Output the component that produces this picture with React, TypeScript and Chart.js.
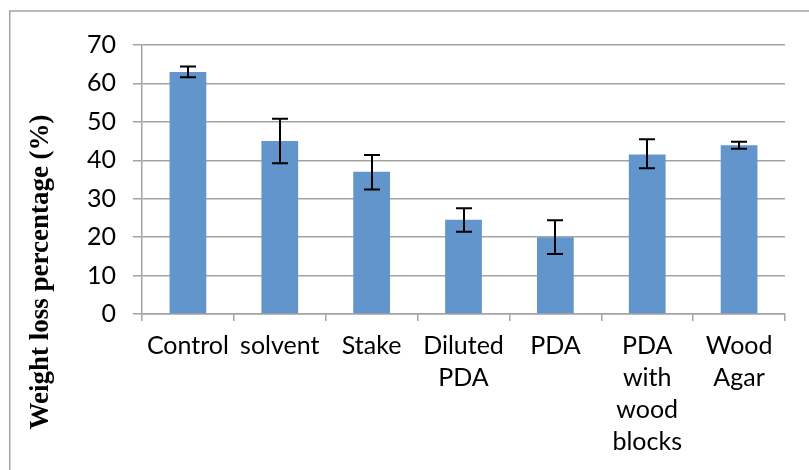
import React, { useEffect, useRef } from "react";
import { Chart, registerables } from "chart.js";

Chart.register(...registerables);

const categories: (string | string[])[] = [
  "Control",
  "solvent",
  "Stake",
  ["Diluted", "PDA"],
  "PDA",
  ["PDA", "with", "wood", "blocks"],
  ["Wood", "Agar"],
];
const weightLoss = [63, 45, 37, 24.5, 20, 41.5, 43.9];
const errorLow = [61.6, 39.2, 32.4, 21.4, 15.6, 37.9, 43.0];
const errorHigh = [64.4, 50.8, 41.4, 27.5, 24.4, 45.5, 44.8];
const yTicks = [0, 10, 20, 30, 40, 50, 60, 70];
const yTitle = "Weight loss percentage (%)";

const TICK_FONT = "Lato, 'Liberation Sans', sans-serif";

const framePlugin = {
  id: "frame",
  beforeDraw(chart: any) {
    const ctx = chart.ctx;
    ctx.save();
    ctx.fillStyle = "#ffffff";
    ctx.fillRect(0, 0, chart.width, chart.height);
    ctx.strokeStyle = "#A3A3A3";
    ctx.lineWidth = 1.5;
    ctx.beginPath();
    ctx.moveTo(9.75, chart.height);
    ctx.lineTo(9.75, 11);
    ctx.lineTo(chart.width, 11);
    ctx.stroke();
    ctx.restore();
  },
  afterDraw(chart: any) {
    const ctx = chart.ctx;
    ctx.save();
    ctx.translate(48, 272);
    ctx.rotate(-Math.PI / 2);
    ctx.fillStyle = "#000000";
    ctx.font = "bold 27px 'Liberation Serif', 'Times New Roman', serif";
    ctx.textAlign = "center";
    ctx.textBaseline = "alphabetic";
    ctx.fillText(yTitle, 0, 0);
    ctx.restore();
  },
};

const errorBarPlugin = {
  id: "errorBars",
  afterDatasetsDraw(chart: any) {
    const ctx = chart.ctx;
    const meta = chart.getDatasetMeta(0);
    const yScale = chart.scales.y;
    ctx.save();
    ctx.strokeStyle = "#000000";
    ctx.lineWidth = 2;
    meta.data.forEach((bar: any, i: number) => {
      const x = Math.round(bar.x);
      const yl = yScale.getPixelForValue(errorLow[i]);
      const yh = yScale.getPixelForValue(errorHigh[i]);
      const cap = 8;
      ctx.beginPath();
      ctx.moveTo(x, yl);
      ctx.lineTo(x, yh);
      ctx.moveTo(x - cap, yl);
      ctx.lineTo(x + cap, yl);
      ctx.moveTo(x - cap, yh);
      ctx.lineTo(x + cap, yh);
      ctx.stroke();
    });
    ctx.restore();
  },
};

export default function App() {
  const canvasRef = useRef<HTMLCanvasElement | null>(null);

  useEffect(() => {
    document.body.style.margin = "0";
    const canvas = canvasRef.current;
    if (!canvas) return;
    const chart = new Chart(canvas, {
      type: "bar",
      data: {
        labels: categories as any,
        datasets: [
          {
            data: weightLoss,
            backgroundColor: "#6195CB",
            borderWidth: 0,
            barPercentage: 0.4,
            categoryPercentage: 1,
          },
        ],
      },
      options: {
        responsive: false,
        animation: false,
        devicePixelRatio: 1,
        layout: { padding: { left: 0, top: 45, right: 24, bottom: 0 } },
        plugins: {
          legend: { display: false },
          tooltip: { enabled: false },
          title: { display: false },
        },
        scales: {
          x: {
            offset: true,
            grid: {
              offset: true,
              drawOnChartArea: false,
              drawTicks: true,
              tickLength: 7,
              color: "#A3A3A3",
              lineWidth: 1.5,
            },
            border: { display: true, color: "#A3A3A3", width: 1.5 },
            ticks: {
              color: "#000000",
              autoSkip: false,
              maxRotation: 0,
              minRotation: 0,
              padding: 9,
              font: { family: TICK_FONT, size: 25, lineHeight: "32px" as any },
            },
            afterFit(scale: any) {
              scale.height = 156;
            },
          },
          y: {
            min: 0,
            max: 70,
            afterBuildTicks(scale: any) {
              scale.ticks = yTicks.map((v) => ({ value: v }));
            },
            grid: {
              color: "#A3A3A3",
              lineWidth: 1.5,
              drawTicks: true,
              tickLength: 9,
            },
            border: { display: true, color: "#A3A3A3", width: 1.5 },
            ticks: {
              color: "#000000",
              padding: 17,
              font: { family: TICK_FONT, size: 25 },
            },
            afterFit(scale: any) {
              scale.width = 142;
            },
          },
        },
      },
      plugins: [framePlugin, errorBarPlugin],
    });
    return () => chart.destroy();
  }, []);

  return (
    <div style={{ position: "fixed", left: 0, top: 0, width: 809, height: 470, background: "#fff" }}>
      <canvas ref={canvasRef} width={809} height={470} style={{ display: "block" }} />
    </div>
  );
}
